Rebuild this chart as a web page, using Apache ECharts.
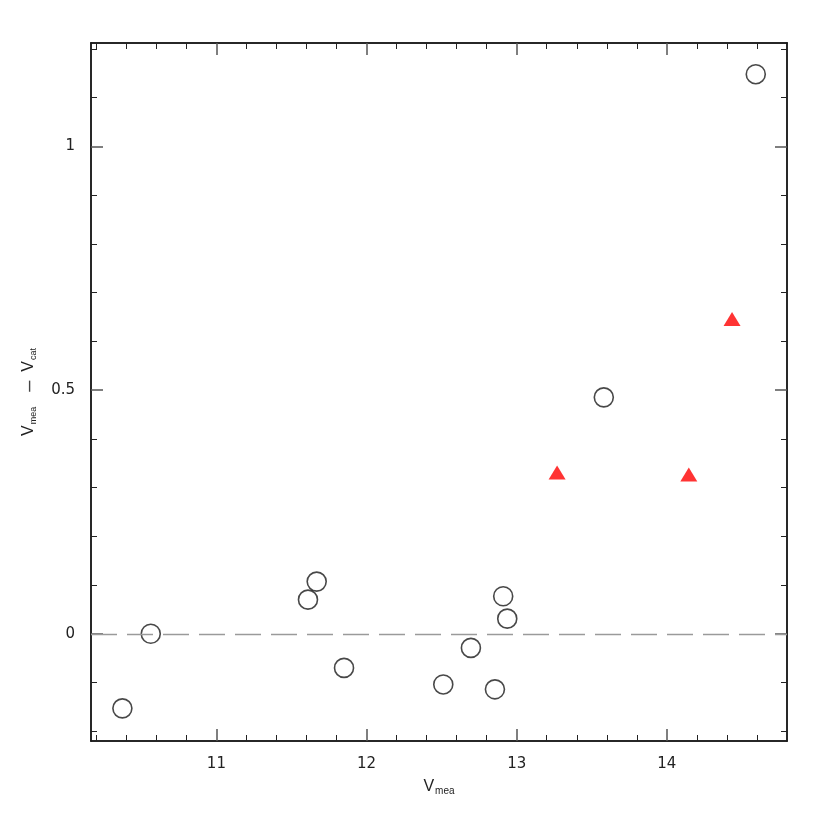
<!DOCTYPE html>
<html>
<head>
<meta charset="utf-8">
<script src="https://cdn.jsdelivr.net/npm/echarts@6/dist/echarts.min.js"></script>
<style>html,body{margin:0;padding:0;background:#fff}#c{width:830px;height:830px}</style>
</head>
<body>
<div id="c"></div>
<script>
// Data
const circleX = [10.374, 10.563, 11.610, 11.668, 11.850, 12.511, 12.695, 12.855, 12.910, 12.937, 13.580, 14.592];
const circleY = [-0.153, 0.000, 0.070, 0.107, -0.070, -0.104, -0.029, -0.114, 0.077, 0.031, 0.485, 1.148];
const triX = [13.269, 14.146, 14.434];
const triY = [0.331, 0.327, 0.646];
const xMajor = [11, 12, 13, 14];
const xMinor = [10.2, 10.4, 10.6, 10.8, 11.2, 11.4, 11.6, 11.8, 12.2, 12.4, 12.6, 12.8, 13.2, 13.4, 13.6, 13.8, 14.2, 14.4, 14.6];
const yMajor = [0, 0.5, 1];
const yMinor = [-0.2, -0.1, 0.1, 0.2, 0.3, 0.4, 0.6, 0.7, 0.8, 0.9, 1.1, 1.2];
const xMin = 10.165, xMax = 14.8, yMin = -0.22, yMax = 1.212;

const font = 'Liberation Sans, Arial, sans-serif';
const tickFont = 'DejaVu Sans, sans-serif';
function axisX(pos, vals, len, labels, extra) {
  return Object.assign({
    type: 'value', position: pos, min: xMin, max: xMax,
    axisLine: {show: true, onZero: false, lineStyle: {color: '#1a1a1a', width: 1.5}},
    axisTick: {show: true, inside: true, length: len, customValues: vals, lineStyle: {color: len > 8 ? '#555' : '#222', width: len > 8 ? 1.5 : 1}},
    axisLabel: labels ? {show: true, customValues: vals, margin: 16, color: '#222', fontSize: 15, fontFamily: tickFont} : {show: false},
    splitLine: {show: false}
  }, extra || {});
}
function axisY(pos, vals, len, labels, extra) {
  return Object.assign({
    type: 'value', position: pos, min: yMin, max: yMax,
    axisLine: {show: true, onZero: false, lineStyle: {color: '#1a1a1a', width: 1.5}},
    axisTick: {show: true, inside: true, length: len, customValues: vals, lineStyle: {color: len > 8 ? '#555' : '#222', width: len > 8 ? 1.5 : 1}},
    axisLabel: labels ? {show: true, customValues: vals, margin: 16, color: '#222', fontSize: 15, fontFamily: tickFont} : {show: false},
    splitLine: {show: false}
  }, extra || {});
}

const chart = echarts.init(document.getElementById('c'), null, {renderer: 'canvas'});
chart.setOption({
  animation: false,
  backgroundColor: '#fff',
  grid: {left: 91, top: 43, right: 43, bottom: 89, containLabel: false},
  xAxis: [
    axisX('bottom', xMajor, 12, true, {
      name: '{v|V}{s|mea}', nameLocation: 'middle', nameGap: 36,
      nameTextStyle: {rich: {
        v: {fontSize: 16, fontFamily: font, color: '#222', lineHeight: 18},
        s: {fontSize: 10, fontFamily: font, color: '#222', lineHeight: 18, verticalAlign: 'bottom', padding: [9, 0, 0, 1]}
      }}
    }),
    axisX('bottom', xMinor, 6, false),
    axisX('top', xMajor, 12, false),
    axisX('top', xMinor, 6, false)
  ],
  yAxis: [
    axisY('left', yMajor, 12, true, {
      name: '{v|V}{s|mea}{m|–}{v|V}{s|cat}', nameLocation: 'middle', nameGap: 53, nameRotate: 90,
      nameTextStyle: {rich: {
        v: {fontSize: 16, fontFamily: font, color: '#222', lineHeight: 18},
        m: {fontSize: 20, fontFamily: font, color: '#444', lineHeight: 18, padding: [0, 9, 0, 15]},
        s: {fontSize: 9, fontFamily: font, color: '#222', lineHeight: 18, verticalAlign: 'bottom', padding: [9, 0, 0, 1]}
      }}
    }),
    axisY('left', yMinor, 6, false),
    axisY('right', yMajor, 12, false),
    axisY('right', yMinor, 6, false)
  ],
  series: [
    {
      type: 'scatter', xAxisIndex: 0, yAxisIndex: 0,
      data: circleX.map((x, i) => [x, circleY[i]]),
      symbol: 'circle', symbolSize: 19,
      itemStyle: {color: 'rgba(255,255,255,0)', borderColor: '#1a1a1a', borderWidth: 1.6},
      markLine: {
        silent: true, symbol: 'none', label: {show: false},
        lineStyle: {color: '#9a9a9a', width: 1.3, type: [26, 10]},
        data: [{yAxis: 0}]
      },
      z: 3
    },
    {
      type: 'scatter', xAxisIndex: 0, yAxisIndex: 0,
      data: triX.map((x, i) => [x, triY[i]]),
      symbol: 'triangle', symbolSize: [17, 14],
      itemStyle: {color: '#ff0000'},
      z: 4
    }
  ]
});
</script>
</body>
</html>
